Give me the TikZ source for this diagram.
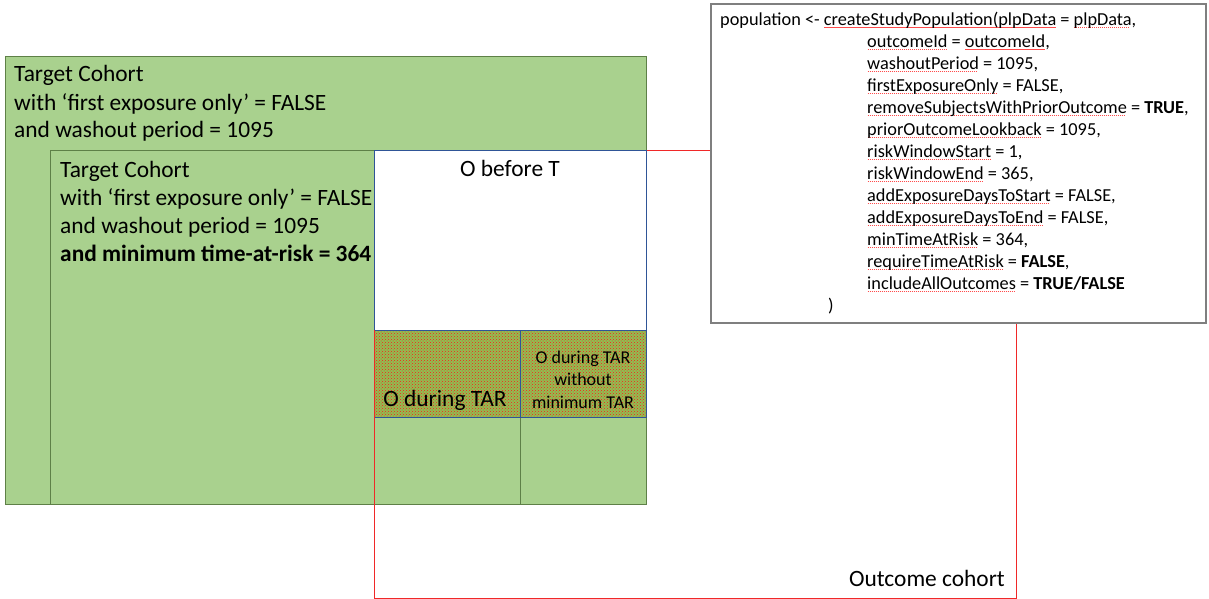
\documentclass[tikz,border=0pt]{standalone}
\usepackage{fontspec}
\setmainfont{Carlito}
\usetikzlibrary{patterns}
\definecolor{gfill}{HTML}{A9D18E}
\definecolor{gline}{HTML}{5E8047}
\definecolor{bline}{HTML}{2F5597}
\definecolor{dgreen}{HTML}{8FBF52}
\definecolor{rline}{HTML}{F02828}
\definecolor{cbox}{HTML}{7F7F7F}
\newsavebox\sqbox
\newcommand\sq[1]{\sbox\sqbox{#1}\rlap{\textcolor{red!70}{\leaders\hbox to 2pt{\hss\rule[-2.8pt]{1.1pt}{0.8pt}\hss}\hskip\wd\sqbox}}\usebox\sqbox}
\tikzset{
  grect/.style={fill=gfill, draw=gline, line width=1pt},
  brect/.style={draw=bline, line width=0.9pt},
  oline/.style={draw=rline, line width=1pt},
  big/.style={font=\fontsize{23.4}{28}\selectfont, inner sep=0pt, align=left},
  small/.style={font=\fontsize{18}{22.3}\selectfont, inner sep=0pt, align=center},
}
\begin{document}
\begin{tikzpicture}[x=1pt,y=-1pt]
\useasboundingbox (0,0) rectangle (1209,599);
% outer target cohort
\draw[grect] (5,57) rectangle (646,504);
\node[big, anchor=base west] (t1) at (14,138) {Target Cohort\\with ‘first exposure only’ = FALSE\\and washout period = 1095};
% inner target cohort
\draw[grect] (50,150) rectangle (646,504);
\draw[gline, line width=1pt] (520,417) -- (520,504);
\node[big, anchor=base west] (t2) at (60,261) {Target Cohort\\with ‘first exposure only’ = FALSE\\and washout period = 1095\\\textbf{and minimum time-at-risk = 364}};
% outcome cohort
\draw[oline] (374,150) rectangle (1016,598);
\node[big, anchor=base east] (oc) at (1005,586) {Outcome cohort};
% O before T
\draw[brect, fill=white] (374,150) rectangle (646,330);
\node[big, anchor=base] (obt) at (510,176) {O before T};
% O during TAR
\fill[dgreen] (374,330) rectangle (646,417);
\fill[pattern=crosshatch dots, pattern color=red!90] (374,330) rectangle (646,417);
\draw[brect] (374,330) rectangle (520,417);
\draw[brect] (520,330) rectangle (646,417);
\draw[rline, line width=1pt] (374,330) -- (374,504);
\node[big, anchor=base] (odt) at (445,406) {O during TAR};
\node[small, anchor=base] (odt2) at (583,408) {O during TAR\\without\\minimum TAR};
% code box
\draw[draw=cbox, fill=white, line width=1.3pt] (711,4) rectangle (1206,323);
\node[anchor=base west, inner sep=0pt, align=left, font=\fontsize{18.3}{22}\selectfont] (code) at (720,311) {%
population <- \sq{createStudyPopulation(plpData} = \sq{plpData},\\
\hspace*{147pt}\sq{outcomeId} = \sq{outcomeId},\\
\hspace*{147pt}\sq{washoutPeriod} = 1095,\\
\hspace*{147pt}\sq{firstExposureOnly} = FALSE,\\
\hspace*{147pt}\sq{removeSubjectsWithPriorOutcome} = \textbf{TRUE},\\
\hspace*{147pt}\sq{priorOutcomeLookback} = 1095,\\
\hspace*{147pt}\sq{riskWindowStart} = 1,\\
\hspace*{147pt}\sq{riskWindowEnd} = 365,\\
\hspace*{147pt}\sq{addExposureDaysToStart} = FALSE,\\
\hspace*{147pt}\sq{addExposureDaysToEnd} = FALSE,\\
\hspace*{147pt}\sq{minTimeAtRisk} = 364,\\
\hspace*{147pt}\sq{requireTimeAtRisk} = \textbf{FALSE},\\
\hspace*{147pt}\sq{includeAllOutcomes} = \textbf{TRUE/FALSE}\\
\hspace*{108pt})};
\end{tikzpicture}
\end{document}
